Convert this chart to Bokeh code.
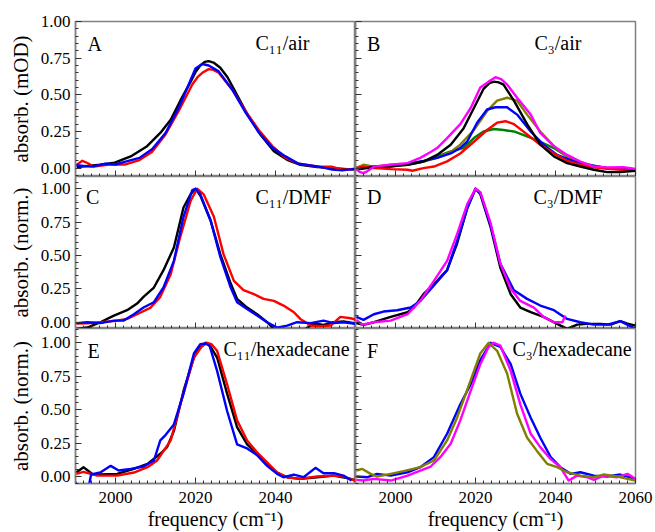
from bokeh.plotting import figure
from bokeh.layouts import gridplot
from bokeh.models import Range1d, FixedTicker, PrintfTickFormatter, Label, LinearAxis
from bokeh.embed import file_html
from bokeh.resources import INLINE

# ---------------- spectra (frequency in cm-1, absorbance) ----------------
# A: C11 / air  (mOD)
a_black_x = [1990.3, 1993.0, 1996.2, 1999.8, 2003.8, 2007.9, 2011.2, 2013.8, 2016.2, 2018.8, 2020.0, 2021.2, 2022.3, 2023.3, 2024.5, 2026.2, 2028.0, 2029.6, 2032.9, 2036.2, 2039.6, 2042.9, 2046.2, 2050.4, 2054.6, 2059.6]
a_black_y = [0.007, 0.015, 0.023, 0.037, 0.08, 0.15, 0.24, 0.33, 0.46, 0.59, 0.655, 0.70, 0.725, 0.73, 0.72, 0.685, 0.62, 0.54, 0.37, 0.23, 0.115, 0.057, 0.023, 0.007, 0.0, -0.01]
a_red_x = [1990.2, 1991.7, 1993.0, 1994.6, 1998.4, 2002.5, 2006.0, 2009.1, 2012.5, 2015.8, 2019.2, 2020.5, 2021.7, 2023.3, 2024.5, 2025.8, 2029.2, 2032.5, 2035.8, 2039.2, 2042.5, 2045.8, 2050.8, 2054.0, 2056.7, 2059.7]
a_red_y = [0.02, 0.05, 0.035, 0.01, 0.025, 0.025, 0.055, 0.11, 0.23, 0.39, 0.57, 0.62, 0.65, 0.675, 0.67, 0.65, 0.535, 0.39, 0.26, 0.15, 0.07, 0.03, 0.01, 0.01, -0.01, -0.005]
a_blue_x = [1990.2, 1994.0, 1997.5, 2000.0, 2002.5, 2006.0, 2009.2, 2012.5, 2015.8, 2018.3, 2020.0, 2021.7, 2023.3, 2025.8, 2029.2, 2032.5, 2035.8, 2039.2, 2042.5, 2045.8, 2050.8, 2054.2, 2056.7, 2059.7]
a_blue_y = [0.02, 0.01, 0.03, 0.025, 0.045, 0.07, 0.13, 0.24, 0.41, 0.57, 0.68, 0.71, 0.70, 0.66, 0.535, 0.38, 0.245, 0.14, 0.08, 0.03, 0.01, -0.01, -0.015, -0.005]

# B: C3 / air  (mOD)
b_green_x = [1990.0, 1994.6, 1998.8, 2003.0, 2007.0, 2010.4, 2013.8, 2017.0, 2019.6, 2022.0, 2024.6, 2027.0, 2029.6, 2032.9, 2036.2, 2039.6, 2042.9, 2046.2, 2049.6, 2052.9, 2057.0, 2060.0]
b_green_y = [0.0, 0.007, 0.011, 0.023, 0.045, 0.08, 0.114, 0.137, 0.205, 0.25, 0.267, 0.26, 0.25, 0.217, 0.18, 0.137, 0.08, 0.04, 0.016, 0.0, -0.007, -0.011]
b_olive_x = [1990.0, 1992.0, 1994.6, 1998.8, 2003.0, 2007.0, 2010.4, 2013.8, 2016.2, 2019.6, 2022.9, 2025.4, 2027.9, 2030.4, 2032.9, 2036.2, 2039.6, 2042.9, 2046.2, 2049.6, 2052.9, 2057.0, 2060.0]
b_olive_y = [0.0, 0.023, 0.01, 0.023, 0.027, 0.045, 0.07, 0.11, 0.16, 0.26, 0.39, 0.46, 0.48, 0.46, 0.365, 0.25, 0.15, 0.08, 0.034, 0.011, 0.0, -0.011, -0.011]
b_blue_x = [1990.0, 1994.6, 1998.8, 2003.0, 2007.0, 2010.4, 2013.8, 2016.2, 2017.9, 2020.4, 2022.9, 2025.0, 2027.9, 2030.4, 2033.8, 2037.0, 2040.4, 2044.6, 2047.9, 2052.9, 2056.2, 2060.0]
b_blue_y = [-0.01, 0.011, 0.011, 0.03, 0.05, 0.07, 0.10, 0.137, 0.18, 0.31, 0.40, 0.415, 0.415, 0.365, 0.25, 0.16, 0.09, 0.046, 0.023, 0.0, -0.007, -0.011]
b_red_x = [1990.0, 1992.0, 1994.6, 1998.8, 2003.0, 2004.2, 2007.0, 2009.6, 2012.9, 2016.2, 2019.6, 2022.9, 2025.4, 2027.5, 2029.6, 2032.9, 2036.2, 2039.6, 2042.9, 2046.2, 2049.6, 2052.9, 2057.0, 2060.0]
b_red_y = [0.0, 0.01, 0.0, -0.007, -0.011, -0.018, 0.0, 0.011, 0.046, 0.10, 0.18, 0.26, 0.31, 0.32, 0.30, 0.23, 0.16, 0.10, 0.05, 0.023, 0.005, -0.005, -0.011, -0.011]
b_black_x = [1990.0, 1994.6, 2003.0, 2007.0, 2010.4, 2013.8, 2017.0, 2019.6, 2022.0, 2023.5, 2024.6, 2025.8, 2027.0, 2029.6, 2032.9, 2036.2, 2039.6, 2042.9, 2046.2, 2049.6, 2052.9, 2056.2, 2060.0]
b_black_y = [-0.01, 0.007, 0.023, 0.045, 0.09, 0.16, 0.27, 0.41, 0.54, 0.58, 0.59, 0.585, 0.57, 0.46, 0.30, 0.16, 0.08, 0.034, 0.011, -0.011, -0.027, -0.027, -0.018]
b_magenta_x = [1990.0, 1991.0, 1992.0, 1993.0, 1994.6, 1998.8, 2003.0, 2006.2, 2008.8, 2010.4, 2012.9, 2016.2, 2018.8, 2021.2, 2023.3, 2025.0, 2026.5, 2027.9, 2030.4, 2033.8, 2036.2, 2039.6, 2042.9, 2046.2, 2049.6, 2052.9, 2057.0, 2060.0]
b_magenta_y = [0.0, -0.025, -0.034, -0.02, 0.01, 0.023, 0.034, 0.07, 0.11, 0.137, 0.205, 0.30, 0.41, 0.55, 0.59, 0.62, 0.605, 0.57, 0.48, 0.365, 0.24, 0.15, 0.09, 0.045, 0.011, 0.005, 0.007, -0.005]

# C: C11 / DMF  (normalised)
c_black_x = [1990.2, 1993.0, 1996.2, 1999.6, 2002.9, 2005.4, 2007.0, 2009.6, 2012.0, 2014.6, 2017.0, 2018.8, 2020.0, 2021.2, 2023.8, 2026.2, 2028.8, 2030.4, 2032.9, 2035.4, 2037.9, 2039.6, 2043.0, 2047.0, 2049.6, 2052.0, 2054.6, 2057.0, 2059.6]
c_black_y = [-0.05, -0.04, 0.0, 0.05, 0.09, 0.14, 0.19, 0.26, 0.39, 0.56, 0.86, 0.96, 1.0, 0.95, 0.76, 0.51, 0.29, 0.175, 0.11, 0.06, 0.0, -0.05, -0.09, -0.06, -0.01, -0.02, 0.0, 0.005, -0.007]
c_red_x = [1990.2, 1993.0, 1996.2, 1999.6, 2002.9, 2005.4, 2008.8, 2011.2, 2013.8, 2016.2, 2018.8, 2020.4, 2022.0, 2024.6, 2027.0, 2029.6, 2032.0, 2034.6, 2037.0, 2039.6, 2042.0, 2044.6, 2046.2, 2048.8, 2051.2, 2053.8, 2056.2, 2058.8, 2060.0]
c_red_y = [-0.01, -0.008, 0.0, 0.008, 0.025, 0.06, 0.11, 0.19, 0.36, 0.64, 0.91, 1.0, 0.96, 0.79, 0.51, 0.31, 0.24, 0.21, 0.175, 0.16, 0.125, 0.075, 0.025, -0.025, -0.03, -0.025, 0.04, 0.03, 0.02]
c_blue_x = [1990.2, 1993.0, 1996.2, 1999.6, 2002.0, 2004.6, 2007.0, 2009.6, 2012.0, 2014.6, 2017.0, 2019.2, 2020.0, 2021.2, 2023.8, 2026.2, 2028.8, 2030.4, 2032.9, 2035.4, 2037.9, 2040.4, 2042.9, 2045.4, 2048.8, 2052.0, 2054.6, 2057.0, 2060.0]
c_blue_y = [-0.007, 0.0, -0.007, 0.012, 0.012, 0.06, 0.11, 0.15, 0.26, 0.46, 0.79, 0.99, 1.0, 0.96, 0.76, 0.49, 0.26, 0.15, 0.10, 0.05, 0.0, -0.04, -0.025, 0.0, -0.007, 0.012, -0.007, 0.0, -0.012]

# D: C3 / DMF  (normalised)
d_black_x = [1990.2, 1992.0, 1994.6, 1998.8, 2003.0, 2004.6, 2007.0, 2010.4, 2012.9, 2015.4, 2018.0, 2020.0, 2021.2, 2023.8, 2026.2, 2028.8, 2031.2, 2033.8, 2037.0, 2040.4, 2042.9, 2045.4, 2047.9, 2051.2, 2053.8, 2056.2, 2058.0, 2060.0]
d_black_y = [-0.007, -0.02, 0.0, 0.04, 0.075, 0.11, 0.21, 0.31, 0.39, 0.59, 0.86, 1.0, 0.96, 0.71, 0.41, 0.21, 0.11, 0.075, 0.04, -0.012, -0.05, -0.018, -0.012, -0.012, -0.018, 0.008, -0.01, -0.025]
d_blue_x = [1990.2, 1992.0, 1994.6, 1997.0, 2000.4, 2003.8, 2006.2, 2009.6, 2012.9, 2015.4, 2018.0, 2020.0, 2021.2, 2023.8, 2026.2, 2029.6, 2032.9, 2036.2, 2039.6, 2042.9, 2046.2, 2049.6, 2053.0, 2056.2, 2060.0]
d_blue_y = [0.04, 0.018, 0.06, 0.08, 0.09, 0.11, 0.16, 0.275, 0.39, 0.61, 0.86, 1.0, 0.97, 0.725, 0.44, 0.24, 0.175, 0.125, 0.09, 0.025, 0.0, -0.018, -0.018, 0.008, -0.05]
d_magenta_x = [1990.2, 1991.7, 1994.6, 1998.8, 2003.0, 2006.2, 2009.6, 2012.9, 2015.4, 2018.0, 2020.0, 2021.2, 2023.8, 2026.2, 2028.8, 2031.2, 2034.6, 2037.0, 2039.6, 2041.7, 2042.5]
d_magenta_y = [0.018, -0.018, 0.0, 0.012, 0.06, 0.16, 0.31, 0.46, 0.66, 0.89, 1.0, 0.975, 0.74, 0.44, 0.25, 0.16, 0.11, 0.04, 0.0, 0.0, 0.05]

# E: C11 / hexadecane  (normalised)
e_black_x = [1990.2, 1992.0, 1994.2, 1996.2, 2000.4, 2004.6, 2008.0, 2011.2, 2012.9, 2014.6, 2017.0, 2019.6, 2021.0, 2022.5, 2023.8, 2025.4, 2027.9, 2030.4, 2032.9, 2035.4, 2037.9, 2040.4, 2042.9, 2046.2, 2050.4, 2054.6, 2058.8, 2060.0]
e_black_y = [0.03, 0.07, 0.02, 0.015, 0.02, 0.057, 0.095, 0.17, 0.22, 0.34, 0.64, 0.89, 0.96, 1.0, 0.97, 0.89, 0.62, 0.37, 0.24, 0.17, 0.095, 0.03, -0.005, -0.017, -0.005, 0.007, -0.017, -0.03]
e_red_x = [1990.2, 1992.0, 1995.4, 2000.4, 2004.6, 2008.0, 2010.4, 2013.8, 2016.2, 2019.6, 2021.5, 2022.9, 2024.0, 2025.4, 2027.9, 2030.4, 2032.9, 2035.4, 2037.9, 2040.4, 2042.9, 2046.2, 2050.4, 2054.6, 2057.0, 2060.0]
e_red_y = [0.02, 0.035, 0.007, 0.007, 0.03, 0.07, 0.12, 0.27, 0.54, 0.89, 0.97, 1.0, 0.99, 0.94, 0.69, 0.42, 0.27, 0.18, 0.107, 0.03, -0.005, -0.017, 0.0, 0.007, 0.0, -0.03]
e_blue_x = [1990.0, 1990.6, 1993.2, 1993.9, 1996.2, 1998.8, 2000.8, 2003.8, 2007.0, 2009.6, 2011.2, 2012.5, 2014.6, 2017.0, 2019.6, 2021.2, 2022.5, 2023.5, 2025.4, 2027.9, 2030.4, 2032.9, 2035.4, 2037.9, 2040.4, 2042.0, 2044.6, 2047.0, 2050.0, 2052.0, 2054.6, 2057.0, 2059.0]
e_blue_y = [-0.04, -0.09, -0.09, 0.015, 0.03, 0.08, 0.045, 0.057, 0.075, 0.12, 0.27, 0.31, 0.39, 0.62, 0.92, 0.99, 0.995, 0.98, 0.79, 0.49, 0.24, 0.21, 0.16, 0.08, 0.02, -0.005, 0.015, -0.005, 0.065, 0.025, 0.025, 0.007, -0.03]

# F: C3 / hexadecane  (normalised)
f_blue_x = [1990.2, 1993.0, 1995.4, 1998.8, 2003.0, 2006.2, 2009.6, 2012.9, 2016.2, 2018.8, 2021.2, 2023.8, 2026.2, 2028.8, 2031.2, 2033.8, 2036.2, 2038.8, 2041.2, 2043.8, 2046.2, 2049.6, 2052.9, 2056.2, 2060.0]
f_blue_y = [0.0, -0.005, 0.02, 0.007, 0.032, 0.07, 0.145, 0.32, 0.54, 0.69, 0.87, 1.0, 0.97, 0.84, 0.62, 0.44, 0.29, 0.145, 0.07, 0.02, 0.032, 0.007, 0.0, 0.015, -0.017]
f_magenta_x = [1990.2, 1992.0, 1994.6, 1998.8, 2003.0, 2006.2, 2008.8, 2011.2, 2013.8, 2016.2, 2018.8, 2021.2, 2023.3, 2024.6, 2026.2, 2028.8, 2031.2, 2033.8, 2036.2, 2038.8, 2041.2, 2043.3, 2045.4, 2047.9, 2049.6, 2052.0, 2055.4, 2058.0, 2060.0]
f_magenta_y = [-0.025, -0.03, -0.017, -0.03, 0.007, 0.045, 0.075, 0.145, 0.245, 0.42, 0.64, 0.84, 0.97, 1.0, 0.98, 0.79, 0.54, 0.32, 0.22, 0.13, 0.07, -0.03, 0.007, -0.005, -0.025, 0.007, -0.005, 0.02, -0.017]
f_olive_x = [1990.2, 1991.7, 1993.8, 1995.4, 1998.8, 2002.0, 2006.2, 2009.6, 2012.9, 2015.4, 2018.8, 2021.2, 2023.3, 2025.4, 2027.9, 2030.4, 2032.9, 2035.4, 2037.9, 2040.4, 2042.9, 2046.2, 2049.6, 2052.0, 2055.4, 2060.0]
f_olive_y = [0.045, 0.057, 0.02, 0.0, 0.02, 0.04, 0.07, 0.12, 0.27, 0.44, 0.72, 0.92, 1.0, 0.94, 0.77, 0.47, 0.29, 0.19, 0.095, 0.07, 0.032, 0.007, -0.005, 0.015, 0.0, -0.03]

# axis ticks
x_major_left = [2000, 2020, 2040]
x_major_all = [2000, 2020, 2040, 2060]
x_minor = [v for v in range(1990, 2061, 2) if v % 20 != 0]
y_major = [0.0, 0.25, 0.5, 0.75, 1.0]
y_minor = [round(-0.05 + 0.05 * i, 2) for i in range(24) if (i - 1) % 5 != 0]

# ---------------- styling ----------------
SERIF = "Liberation Serif"
FRAME = "#808080"
TICK = "#333333"
LW = 2.4
COLORS = {"black": "#000000", "red": "#ff0000", "blue": "#0000ff",
          "magenta": "#ff00ff", "olive": "#808000", "green": "#008000"}

FRAME_W = 280
ROWS = [  # (y range, frame height, top border, bottom border)
    ((-0.057, 1.0), 155, 21, 0),
    ((-0.047, 1.092), 152, 0, 0),
    ((-0.052, 1.107), 155, 0, 49),
]


def base_axis(ax):
    ax.major_tick_in = 6
    ax.major_tick_out = 0
    ax.minor_tick_in = 3
    ax.minor_tick_out = 0
    ax.axis_line_color = FRAME
    ax.axis_line_width = 1.5
    ax.major_tick_line_color = TICK
    ax.minor_tick_line_color = TICK
    ax.major_label_text_font = SERIF
    ax.major_label_text_font_size = "17px"
    ax.major_label_text_color = "#000000"
    ax.axis_label_text_font = SERIF
    ax.axis_label_text_font_style = "normal"
    ax.axis_label_text_color = "#000000"
    ax.major_label_standoff = 0


def bare_axis(p, ax, side, majors, minors):
    # tick marks only: major positions drawn as long minor ticks, plus a
    # second overlaid axis for the short minor ticks -- no tick labels at all
    base_axis(ax)
    ax.ticker = FixedTicker(ticks=[], minor_ticks=majors)
    ax.minor_tick_in = 6
    extra = LinearAxis(ticker=FixedTicker(ticks=[], minor_ticks=minors))
    base_axis(extra)
    extra.axis_line_alpha = 0
    p.add_layout(extra, side)


def panel(row, left, bottom, ylabel=None):
    (y0, y1), fh, top_b, bot_b = ROWS[row]
    lb = 75 if left else 0
    rb = 0 if left else 20
    p = figure(width=lb + FRAME_W + rb, height=top_b + fh + bot_b,
               x_range=Range1d(1990, 2060), y_range=Range1d(y0, y1),
               min_border_left=lb, min_border_right=rb,
               min_border_top=top_b, min_border_bottom=bot_b,
               output_backend="svg", toolbar_location=None)
    p.xgrid.visible = False
    p.ygrid.visible = False
    p.outline_line_color = FRAME
    p.outline_line_width = 1.5
    p.background_fill_color = "white"
    p.border_fill_color = "white"

    xax = p.xaxis[0]
    if bottom:
        base_axis(xax)
        xax.ticker = FixedTicker(ticks=x_major_left if left else x_major_all,
                                 minor_ticks=x_minor)
        xax.formatter = PrintfTickFormatter(format="%d")
        xax.major_label_standoff = 8
        xax.axis_label = "frequency (cm\u207b\u00b9)"
        xax.axis_label_text_font_size = "20px"
        xax.axis_label_standoff = 2
    else:
        bare_axis(p, xax, "below", x_major_all, x_minor)

    yax = p.yaxis[0]
    if left:
        base_axis(yax)
        yax.ticker = FixedTicker(ticks=y_major, minor_ticks=y_minor)
        yax.formatter = PrintfTickFormatter(format="%.2f")
        yax.major_label_standoff = 5
        yax.axis_label = ylabel
        yax.axis_label_text_font_size = "21px"
        yax.axis_label_standoff = 5
    else:
        bare_axis(p, yax, "left", y_major, y_minor)
    return p


def curves(p, series):
    for xs, ys, c in series:
        p.line(xs, ys, line_color=COLORS[c], line_width=LW, line_join="round")


def tag(p, x, y, text):
    p.add_layout(Label(x=x, y=y, text=text, text_font=SERIF, text_font_size="20px",
                       text_baseline="middle", text_align="left", text_color="#000000"))


pA = panel(0, True, False, "absorb. (mOD)")
curves(pA, [(a_black_x, a_black_y, "black"), (a_red_x, a_red_y, "red"), (a_blue_x, a_blue_y, "blue")])
tag(pA, 1993.0, 0.845, "A")
tag(pA, 2035.0, 0.85, "C\u2081\u2081/air")

pB = panel(0, False, False)
curves(pB, [(b_green_x, b_green_y, "green"), (b_olive_x, b_olive_y, "olive"),
            (b_blue_x, b_blue_y, "blue"), (b_red_x, b_red_y, "red"),
            (b_black_x, b_black_y, "black"), (b_magenta_x, b_magenta_y, "magenta")])
tag(pB, 1992.9, 0.845, "B")
tag(pB, 2034.75, 0.85, "C\u2083/air")

pC = panel(1, True, False, "absorb. (norm.)")
curves(pC, [(c_black_x, c_black_y, "black"), (c_red_x, c_red_y, "red"), (c_blue_x, c_blue_y, "blue")])
tag(pC, 1992.6, 0.94, "C")
tag(pC, 2035.0, 0.94, "C\u2081\u2081/DMF")

pD = panel(1, False, False)
curves(pD, [(d_black_x, d_black_y, "black"), (d_blue_x, d_blue_y, "blue"), (d_magenta_x, d_magenta_y, "magenta")])
tag(pD, 1992.9, 0.94, "D")
tag(pD, 2034.5, 0.94, "C\u2083/DMF")

pE = panel(2, True, True, "absorb. (norm.)")
curves(pE, [(e_black_x, e_black_y, "black"), (e_red_x, e_red_y, "red"), (e_blue_x, e_blue_y, "blue")])
tag(pE, 1993.0, 0.94, "E")
tag(pE, 2027.0, 0.95, "C\u2081\u2081/hexadecane")

pF = panel(2, False, True)
curves(pF, [(f_blue_x, f_blue_y, "blue"), (f_magenta_x, f_magenta_y, "magenta"), (f_olive_x, f_olive_y, "olive")])
tag(pF, 1992.9, 0.94, "F")
tag(pF, 2029.25, 0.95, "C\u2083/hexadecane")

grid = gridplot([[pA, pB], [pC, pD], [pE, pF]], toolbar_location=None)

open("out.html", "w").write(file_html(grid, INLINE))
